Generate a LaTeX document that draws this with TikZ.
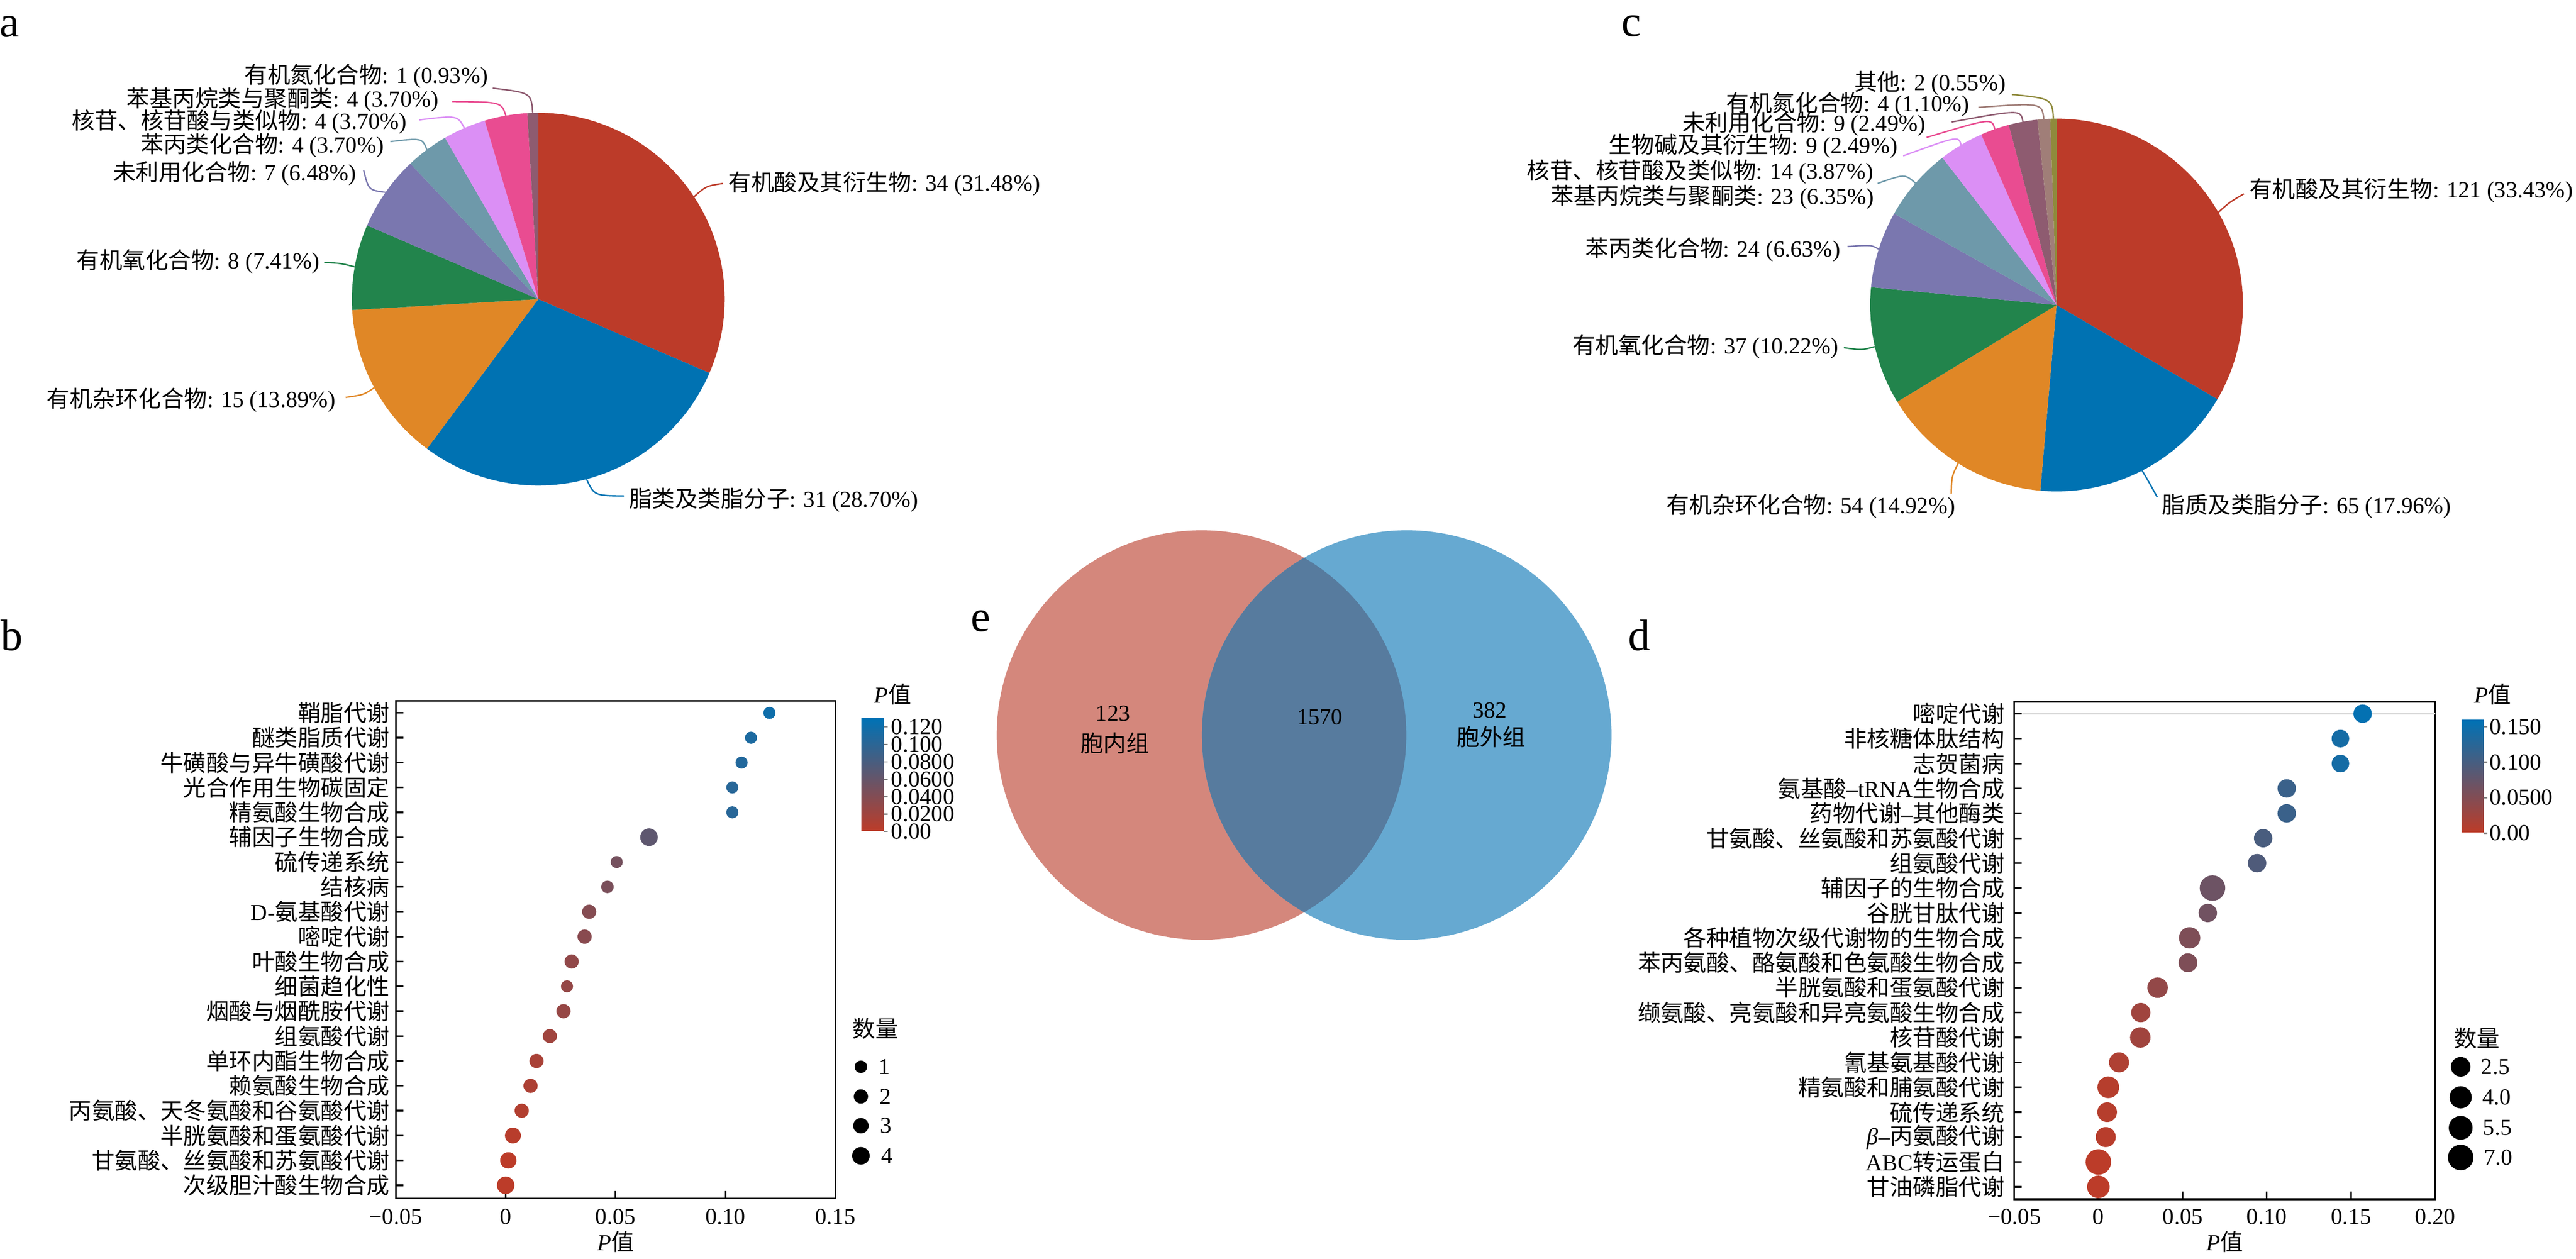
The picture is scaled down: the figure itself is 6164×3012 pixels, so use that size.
\documentclass[tikz,border=0pt]{standalone}
\usepackage{fontspec}
\setmainfont{Liberation Serif}
\newfontfamily\zhfont{Noto Sans CJK SC}
\XeTeXinterchartokenstate=1
\newXeTeXintercharclass\zhclass
\newcount\zhcnt
\def\zhrange#1#2{\zhcnt=#1\relax\loop\XeTeXcharclass\zhcnt=\zhclass\relax\ifnum\zhcnt<#2\relax\advance\zhcnt by 1\relax\repeat}
\zhrange{"3000}{"303F}
\zhrange{"4E00}{"9FFF}
\zhrange{"FF00}{"FFEF}
\XeTeXinterchartoks 0 \zhclass = {\zhfont}
\XeTeXinterchartoks 4095 \zhclass = {\zhfont}
\XeTeXinterchartoks \zhclass 0 = {\normalfont}
\usetikzlibrary{positioning}
\definecolor{pRed}{RGB}{188,59,41}
\definecolor{pBlue}{RGB}{0,114,178}
\definecolor{pOrange}{RGB}{224,135,38}
\definecolor{pGreen}{RGB}{34,132,76}
\definecolor{pPurple}{RGB}{122,119,175}
\definecolor{pTeal}{RGB}{110,153,170}
\definecolor{pViolet}{RGB}{219,143,245}
\definecolor{pPink}{RGB}{233,76,145}
\definecolor{pMauve}{RGB}{142,91,112}
\definecolor{pTan}{RGB}{160,126,120}
\definecolor{pOlive}{RGB}{143,138,60}
\definecolor{lowP}{RGB}{188,60,41}
\definecolor{highP}{RGB}{0,114,181}
\definecolor{vennL}{RGB}{212,135,124}
\definecolor{vennR}{RGB}{102,169,209}
\definecolor{vennM}{RGB}{87,123,158}

\begin{document}
\begin{tikzpicture}[x=0.1mm,y=-0.1mm,
    every node/.style={inner sep=0pt,font=\fontsize{15.6pt}{19pt}\selectfont},
    letter/.style={font=\fontsize{30pt}{32pt}\selectfont},
    lead/.style={line width=0.33mm},
    boxline/.style={line width=0.4mm},
    cbtick/.style={line width=0.3mm,gray},
    legdot/.style={circle,fill=black}]
    \useasboundingbox (0,0) rectangle (6164,3012);

    \node[letter] (lab-a) at (23,64)     {a};
    \node[letter] (lab-b) at (28,1520)   {b};
    \node[letter] (lab-c) at (3903,62)   {c};
    \node[letter] (lab-d) at (3922,1520) {d};
    \node[letter] (lab-e) at (2347,1487) {e};

    \coordinate (pa) at (1288,716);
    \coordinate (pc) at (4921,730);
    \foreach \s/\e/\col in {0/31.48/pRed,31.48/60.18/pBlue,60.18/74.07/pOrange,74.07/81.48/pGreen,81.48/87.96/pPurple,87.96/91.66/pTeal,91.66/95.36/pViolet,95.36/99.06/pPink,99.06/100/pMauve}
        \fill[\col] (pa) -- ([shift={(-90+3.6*\s:446)}]pa) arc[start angle=-90+3.6*\s,end angle=-90+3.6*\e,radius=446] -- cycle;
    \foreach \s/\e/\col in {0/33.43/pRed,33.43/51.39/pBlue,51.39/66.31/pOrange,66.31/76.53/pGreen,76.53/83.16/pPurple,83.16/89.51/pTeal,89.51/93.38/pViolet,93.38/95.87/pPink,95.87/98.36/pMauve,98.36/99.46/pTan,99.46/100/pOlive}
        \fill[\col] (pc) -- ([shift={(-90+3.6*\s:446)}]pc) arc[start angle=-90+3.6*\s,end angle=-90+3.6*\e,radius=446] -- cycle;
    \foreach \n/\m in {n/268.29,pp/259.96,nuc/246.64,phe/233.32,un/214.99,ox/189.99,het/151.65,lip/74.99,acid/-33.34}
        \coordinate (a-\n-p) at ([shift={(\m:446)}]pa);
    \foreach \n/\m in {o/269.05,n/266.08,un/259.61,alk/250.65,nuc/239.20,pp/220.81,phe/197.44,ox/167.11,het/121.86,lip/62.68,acid/-29.83}
        \coordinate (c-\n-p) at ([shift={(\m:446)}]pc);

    \node[anchor=east] (a-n)    at (1168,182)  {有机氮化合物: 1 (0.93\%)};
    \node[anchor=east] (a-pp)   at (1050,238)  {苯基丙烷类与聚酮类: 4 (3.70\%)};
    \node[anchor=east] (a-nuc)  at (974,291)   {核苷、核苷酸与类似物: 4 (3.70\%)};
    \node[anchor=east] (a-phe)  at (919,348)   {苯丙类化合物: 4 (3.70\%)};
    \node[anchor=east] (a-un)   at (853,415)   {未利用化合物: 7 (6.48\%)};
    \node[anchor=east] (a-ox)   at (766,626)   {有机氧化合物: 8 (7.41\%)};
    \node[anchor=east] (a-het)  at (804,957)   {有机杂环化合物: 15 (13.89\%)};
    \node[anchor=west] (a-lip)  at (1505,1196) {脂类及类脂分子: 31 (28.70\%)};
    \node[anchor=west] (a-acid) at (1742,439)  {有机酸及其衍生物: 34 (31.48\%)};
    \draw[lead,pMauve]  ([shift={(11,29)}]a-n.east)    .. controls (1271,222)  .. (a-n-p);
    \draw[lead,pPink]   ([shift={(32,5)}]a-pp.east)    .. controls (1200,244)  .. (a-pp-p);
    \draw[lead,pViolet] ([shift={(29,-4)}]a-nuc.east)  .. controls (1095,276)  .. (a-nuc-p);
    \draw[lead,pTeal]   ([shift={(15,-9)}]a-phe.east)  .. controls (1010,330)  .. (a-phe-p);
    \draw[lead,pPurple] ([shift={(17,-8)}]a-un.east)   .. controls (882,455)   .. (a-un-p);
    \draw[lead,pGreen]  ([shift={(10,2)}]a-ox.east)    .. controls (815,630)   .. (a-ox-p);
    \draw[lead,pOrange] ([shift={(23,-6)}]a-het.east)  .. controls (870,945)   .. (a-het-p);
    \draw[lead,pBlue]   ([shift={(-12,-9)}]a-lip.west) .. controls (1422,1186) .. (a-lip-p);
    \draw[lead,pRed]    ([shift={(-12,0)}]a-acid.west) .. controls (1690,445)  .. (a-acid-p);

    \node[anchor=east] (c-o)    at (4800,199)  {其他: 2 (0.55\%)};
    \node[anchor=east] (c-n)    at (4713,250)  {有机氮化合物: 4 (1.10\%)};
    \node[anchor=east] (c-un)   at (4608,297)  {未利用化合物: 9 (2.49\%)};
    \node[anchor=east] (c-alk)  at (4541,349)  {生物碱及其衍生物: 9 (2.49\%)};
    \node[anchor=east] (c-nuc)  at (4483,411)  {核苷、核苷酸及类似物: 14 (3.87\%)};
    \node[anchor=east] (c-pp)   at (4485,471)  {苯基丙烷类与聚酮类: 23 (6.35\%)};
    \node[anchor=east] (c-phe)  at (4404,597)  {苯丙类化合物: 24 (6.63\%)};
    \node[anchor=east] (c-ox)   at (4400,829)  {有机氧化合物: 37 (10.22\%)};
    \node[anchor=east] (c-het)  at (4679,1211) {有机杂环化合物: 54 (14.92\%)};
    \node[anchor=west] (c-lip)  at (5173,1211) {脂质及类脂分子: 65 (17.96\%)};
    \node[anchor=west] (c-acid) at (5382,456)  {有机酸及其衍生物: 121 (33.43\%)};
    \draw[lead,pOlive]  ([shift={(14,27)}]c-o.east)    .. controls (4910,236)  .. (c-o-p);
    \draw[lead,pTan]    ([shift={(21,7)}]c-n.east)     .. controls (4886,246)  .. (c-n-p);
    \draw[lead,pMauve]  ([shift={(62,-5)}]c-un.east)   .. controls (4835,262)  .. (c-un-p);
    \draw[lead,pPink]   ([shift={(69,-20)}]c-alk.east) .. controls (4766,282)  .. (c-alk-p);
    \draw[lead,pViolet] ([shift={(71,-38)}]c-nuc.east) .. controls (4686,325)  .. (c-nuc-p);
    \draw[lead,pTeal]   ([shift={(8,-32)}]c-pp.east)   .. controls (4558,416)  .. (c-pp-p);
    \draw[lead,pPurple] ([shift={(17,-7)}]c-phe.east)  .. controls (4478,586)  .. (c-phe-p);
    \draw[lead,pGreen]  ([shift={(12,3)}]c-ox.east)    .. controls (4455,838)  .. (c-ox-p);
    \draw[lead,pOrange] ([shift={(-10,-29)}]c-het.east) .. controls (4670,1140) .. (c-het-p);
    \draw[lead,pBlue]   ([shift={(-11,-21)}]c-lip.west) .. controls (5140,1150) .. (c-lip-p);
    \draw[lead,pRed]    ([shift={(-13,8)}]c-acid.west) .. controls (5335,484)  .. (c-acid-p);

    \coordinate (vl) at (2875,1759);
    \coordinate (vr) at (3366,1759);
    \fill[vennL] (vl) circle[radius=490];
    \fill[vennR] (vr) circle[radius=490];
    \begin{scope}
        \clip (vl) circle[radius=490];
        \fill[vennM] (vr) circle[radius=490];
    \end{scope}
    \node (e-n1) at (2663,1708) {123};
    \node (e-t1) at (2668,1779) {胞内组};
    \node (e-n2) at (3158,1716) {1570};
    \node (e-n3) at (3565,1700) {382};
    \node (e-t3) at (3568,1764) {胞外组};

    \draw[boxline] (947,1677) rectangle (1999,2868);
    \foreach \xv/\t in {947/−0.05,1210/0,1473/0.05,1736/0.10,1999/0.15} {
        \draw[boxline] (\xv,2868) -- (\xv,2850);
        \node at (\xv,2912) {\t};
    }
    \node (b-xt) at (1473,2972) {\textit{P}值};
    \foreach \lab/\p/\r [count=\i] in {鞘脂代谢/0.120/14.5,醚类脂质代谢/0.1116/14.5,牛磺酸与异牛磺酸代谢/0.1073/14.5,光合作用生物碳固定/0.1031/14.5,精氨酸生物合成/0.1031/14.5,辅因子生物合成/0.0652/21,硫传递系统/0.0505/14.5,结核病/0.0463/15,D-氨基酸代谢/0.038/17,嘧啶代谢/0.0359/17,叶酸生物合成/0.030/17,细菌趋化性/0.0279/14.5,烟酸与烟酰胺代谢/0.0263/17,组氨酸代谢/0.0201/17,单环内酯生物合成/0.014/17,赖氨酸生物合成/0.0113/17,丙氨酸、天冬氨酸和谷氨酸代谢/0.0073/17,半胱氨酸和蛋氨酸代谢/0.0033/19,甘氨酸、丝氨酸和苏氨酸代谢/0.0012/19.5,次级胆汁酸生物合成/0/21} {
        \pgfmathsetmacro\yy{1706+(\i-1)*59.5}
        \pgfmathtruncatemacro\mix{min(100,100*\p/0.13)}
        \draw[boxline] (947,\yy) -- (965,\yy);
        \node[anchor=east] (b-\i) at (933,\yy) {\lab};
        \fill[highP!\mix!lowP] (1210+5260*\p,\yy) circle[radius=\r];
    }
    \shade[top color=highP,bottom color=lowP] (2061,1719) rectangle (2115,1988);
    \foreach \t [count=\k from 0] in {0.00,0.0200,0.0400,0.0600,0.0800,0.100,0.120} {
        \draw[cbtick] (2115,1990-41.7*\k) -- (2124,1990-41.7*\k);
        \node[anchor=west] at (2132,1990-41.7*\k) {\t};
    }
    \node (b-cbt) at (2136,1661) {\textit{P}值};
    \node (b-lg) at (2095,2462) {数量};
    \node[legdot,minimum size=3mm]   (b-d1) at (2060,2553) {};
    \node[legdot,minimum size=3.4mm] (b-d2) at (2060,2624) {};
    \node[legdot,minimum size=3.7mm] (b-d3) at (2060,2694) {};
    \node[legdot,minimum size=4.2mm] (b-d4) at (2060,2766) {};
    \node[right=2.6mm of b-d1] {1};
    \node[right=2.6mm of b-d2] {2};
    \node[right=2.6mm of b-d3] {3};
    \node[right=2.6mm of b-d4] {4};

    \draw[boxline] (4820,1680) rectangle (5827,2870);
    \draw[gray!30,line width=0.3mm] (4820,1708) -- (5827,1708);
    \foreach \xv/\t in {4820/−0.05,5021/0,5223/0.05,5424/0.10,5626/0.15,5827/0.20} {
        \draw[boxline] (\xv,2870) -- (\xv,2852);
        \node at (\xv,2912) {\t};
    }
    \node (d-xt) at (5323,2972) {\textit{P}值};
    \foreach \lab/\p/\r [count=\i] in {嘧啶代谢/0.157/22,非核糖体肽结构/0.1438/21,志贺菌病/0.1438/21,氨基酸--tRNA生物合成/0.1119/22,药物代谢--其他酶类/0.1119/22,甘氨酸、丝氨酸和苏氨酸代谢/0.0979/22,组氨酸代谢/0.0943/22,辅因子的生物合成/0.0678/30.5,谷胱甘肽代谢/0.065/22,各种植物次级代谢物的生物合成/0.0542/25.5,苯丙氨酸、酪氨酸和色氨酸生物合成/0.0532/22.5,半胱氨酸和蛋氨酸代谢/0.0352/24.5,缬氨酸、亮氨酸和异亮氨酸生物合成/0.0252/23,核苷酸代谢/0.0249/24.5,氰基氨基酸代谢/0.0123/24,精氨酸和脯氨酸代谢/0.0059/26,硫传递系统/0.0052/23.5,\textit{β}--丙氨酸代谢/0.0044/24,ABC转运蛋白/0/30.5,甘油磷脂代谢/0/27} {
        \pgfmathsetmacro\yy{1708+(\i-1)*59.6}
        \pgfmathtruncatemacro\mix{min(100,100*\p/0.16)}
        \draw[boxline] (4820,\yy) -- (4838,\yy);
        \node[anchor=east] (d-\i) at (4797,\yy) {\lab};
        \fill[highP!\mix!lowP] (5021+4028*\p,\yy) circle[radius=\r];
    }
    \shade[top color=highP,bottom color=lowP] (5890,1723) rectangle (5943,1991);
    \foreach \t [count=\k from 0] in {0.00,0.0500,0.100,0.150} {
        \draw[cbtick] (5943,1994-85*\k) -- (5952,1994-85*\k);
        \node[anchor=west] at (5957,1994-85*\k) {\t};
    }
    \node (d-cbt) at (5965,1661) {\textit{P}值};
    \node (d-lg) at (5927,2485) {数量};
    \node[legdot,minimum size=4.7mm] (d-d1) at (5888,2553) {};
    \node[legdot,minimum size=5.3mm] (d-d2) at (5888,2626) {};
    \node[legdot,minimum size=5.7mm] (d-d3) at (5888,2699) {};
    \node[legdot,minimum size=6.1mm] (d-d4) at (5888,2770) {};
    \node[right=2.4mm of d-d1] {2.5};
    \node[right=2.4mm of d-d2] {4.0};
    \node[right=2.4mm of d-d3] {5.5};
    \node[right=2.4mm of d-d4] {7.0};
\end{tikzpicture}
\end{document}
